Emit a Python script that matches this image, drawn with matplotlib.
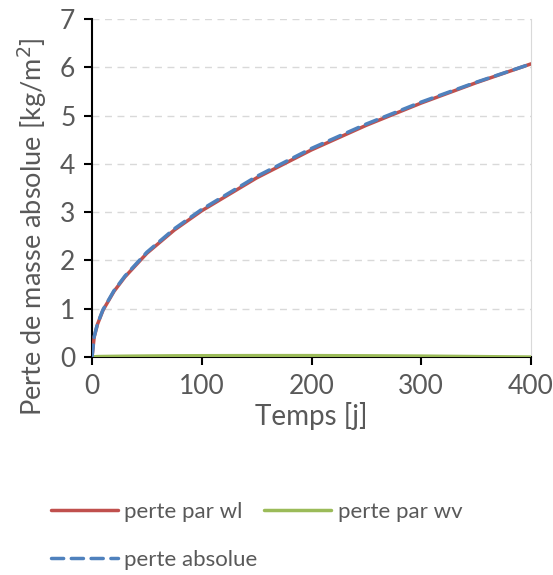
import matplotlib
matplotlib.use("agg")
import matplotlib.pyplot as plt

# Values
temps = [0, 2, 5, 10, 20, 30, 50, 75, 100, 150, 200, 250, 300, 350, 400]
perte_wl = [0.0, 0.42, 0.68, 0.97, 1.36, 1.66, 2.15, 2.63, 3.03, 3.71, 4.29, 4.80, 5.26, 5.68, 6.07]
perte_wv = [0.0, 0.005, 0.01, 0.012, 0.015, 0.018, 0.022, 0.026, 0.028, 0.03, 0.03, 0.026, 0.02, 0.01, 0.0]
perte_abs = [a + b for a, b in zip(perte_wl, perte_wv)]

grey = "#595959"
plt.rcParams["font.family"] = ["Lato", "DejaVu Sans"]

fig = plt.figure(figsize=(5.53, 5.75), dpi=100)
ax = fig.add_axes([0.1664, 0.379, 0.7938, 0.588])

l_wl, = ax.plot(temps, perte_wl, color="#C0504D", linewidth=2.5,
                label="perte par wl", solid_capstyle="round", zorder=3)
l_wv, = ax.plot(temps, perte_wv, color="#9BBB59", linewidth=2.5,
                label="perte par wv", solid_capstyle="round", zorder=3)
l_abs, = ax.plot(temps, perte_abs, color="#4F81BD", linewidth=2.5,
                 label="perte absolue", dashes=[3.5, 2.2],
                 dash_capstyle="round", zorder=3)

ax.set_xlim(0, 400)
ax.set_ylim(0, 7)
ax.set_xticks([0, 100, 200, 300, 400])
ax.set_yticks(range(8))
ax.grid(axis="y", color="#D9D9D9", linewidth=1.0, dashes=[5, 4])
ax.set_axisbelow(True)

ax.spines["top"].set_visible(False)
ax.spines["right"].set_color("#D9D9D9")
ax.spines["left"].set_linewidth(1.5)
ax.spines["bottom"].set_linewidth(1.5)
ax.tick_params(axis="both", direction="out", length=6, width=1.5,
               color="black", labelcolor=grey, labelsize=19, pad=6)

ax.set_xlabel("Temps [j]", fontsize=20, color=grey, labelpad=2)
ax.set_ylabel("Perte de masse absolue [kg/m$^2$]", fontsize=19.5, color=grey)
# the title sits lower than the axes centre, as in the source chart
ax.yaxis.set_label_coords(-0.098, 0.385)

leg_opts = dict(loc="upper left", frameon=False, fontsize=16, labelcolor=grey,
                handlelength=3.0, handletextpad=0.3, labelspacing=1.25,
                borderaxespad=0)
fig.legend([l_wl, l_abs], ["perte par wl", "perte absolue"],
           bbox_to_anchor=(0.076, 0.142), **leg_opts)
fig.legend([l_wv], ["perte par wv"], bbox_to_anchor=(0.462, 0.142), **leg_opts)

plt.savefig("out.png", dpi=100)
plt.close()
